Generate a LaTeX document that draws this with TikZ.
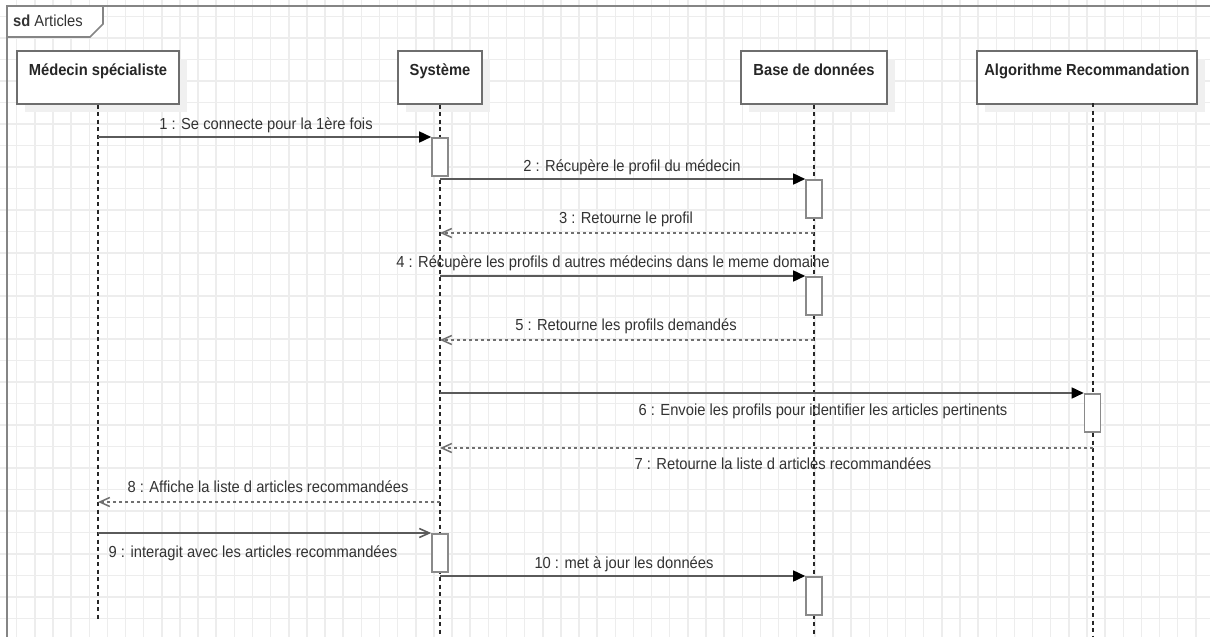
\documentclass[tikz,border=0pt]{standalone}
\usepackage{fontspec}
\setmainfont{Liberation Sans}[FakeStretch=0.92]
\usetikzlibrary{arrows.meta,shadows}

\definecolor{gridline}{HTML}{EDEDED}
\definecolor{frameline}{HTML}{858585}
\definecolor{boxedge}{HTML}{6E6E6E}
\definecolor{actedge}{HTML}{8A8A8A}
\definecolor{msgline}{HTML}{5A5A5A}
\definecolor{retline}{HTML}{707070}
\definecolor{labeltext}{HTML}{333333}
\definecolor{shadowgray}{HTML}{F0F0F0}

\begin{document}
\begin{tikzpicture}[x=1pt,y=-1pt,
  every node/.style={font=\fontsize{16}{19}\selectfont, text=labeltext},
  lifebox/.style={draw=boxedge, line width=1.6pt, fill=white,
    drop shadow={shadow xshift=8pt, shadow yshift=-8pt, fill=shadowgray, opacity=1},
    minimum width=#1, minimum height=53pt, inner sep=0pt,
    text height=25pt, text depth=28pt, anchor=north,
    font=\fontsize{16}{19}\selectfont\bfseries, text=black!85},
  act/.style={draw=actedge, line width=1.6pt, fill=white,
    minimum width=16pt, minimum height=38pt, inner sep=0pt, anchor=north},
  lifeline/.style={draw=black!85, line width=1.1pt, dash pattern=on 4pt off 3.5pt},
  msg/.style={draw=msgline, line width=1.6pt,
    -{Triangle[length=12pt,width=11pt,color=black,fill=black]}},
  msgopen/.style={draw=msgline, line width=1.6pt,
    -{Straight Barb[length=10pt,width=9pt]}},
  ret/.style={draw=retline, line width=1.5pt, dash pattern=on 3pt off 3pt,
    -{Straight Barb[length=10pt,width=9pt]}},
  lbl/.style={anchor=base, inner sep=0pt},
  frame/.style={draw=frameline, line width=1.6pt}
]
\useasboundingbox (0,0) rectangle (1210,637);
\clip (0,0) rectangle (1210,637);
\fill[white] (0,0) rectangle (1210,637);

% background grid
\foreach \i in {0,...,65}
  \draw[gridline, line width=1.5pt] ({16.7+18.14*\i},0) -- ({16.7+18.14*\i},637);
\foreach \j in {0,...,29}
  \draw[gridline, line width=1.5pt] (0,{16.7+21.5*\j}) -- (1210,{16.7+21.5*\j});

% sequence frame and its name tab
\draw[frame] (7,680) -- (7,6) -- (1260,6);
\draw[frame, fill=white] (7,6) -- (103,6) -- (103,24) -- (90,37) -- (7,37) -- cycle;
\node[anchor=base west, inner sep=0pt] (sdname) at (13,27) {\textbf{sd} Articles};

% participants
\node[lifebox=162pt] (med)  at (98,50)   {Médecin spécialiste};
\node[lifebox=84pt]  (sys)  at (440,50)  {Système};
\node[lifebox=146pt] (bdd)  at (814,50)  {Base de données};
\node[lifebox=220pt] (algo) at (1087,50) {Algorithme Recommandation};

% lifelines
\coordinate (medEnd)  at (98,620);
\coordinate (sysEnd)  at (440,640);
\coordinate (bddEnd)  at (814,640);
\coordinate (algoTop) at (1093,103);
\coordinate (algoEnd) at (1093,640);
\draw[lifeline] (med.south) -- (medEnd);
\draw[lifeline] (sys.south) -- (sysEnd);
\draw[lifeline] (bdd.south) -- (bddEnd);
\draw[lifeline] (algoTop) -- (algoEnd);

% activation bars
\node[act] (a1) at (440,137)  {};
\node[act] (a2) at (814,179)  {};
\node[act] (a3) at (814,276)  {};
\node[act] (a4) at (1092.5,393) {};
\node[act] (a5) at (440,533)  {};
\node[act] (a6) at (814,576)  {};

% message end points on the lifelines
\coordinate (s1) at (98,137);
\coordinate (s2) at (440,179);
\coordinate (r3) at (814,233);  \coordinate (e3) at (440,233);
\coordinate (s4) at (440,276);
\coordinate (r5) at (814,340);  \coordinate (e5) at (440,340);
\coordinate (s6) at (440,393);
\coordinate (r7) at (1093,448); \coordinate (e7) at (440,448);
\coordinate (r8) at (440,502);  \coordinate (e8) at (98,502);
\coordinate (s9) at (98,533);
\coordinate (s10) at (440,576);

% messages
\draw[msg] (s1) -- (a1.north west);
\draw[msg] (s2) -- (a2.north west);
\draw[ret] (r3) -- (e3);
\draw[msg] (s4) -- (a3.north west);
\draw[ret] (r5) -- (e5);
\draw[msg] (s6) -- (a4.north west);
\draw[ret] (r7) -- (e7);
\draw[ret] (r8) -- (e8);
\draw[msgopen] (s9) -- (a5.north west);
\draw[msg] (s10) -- (a6.north west);

% message labels
\node[lbl] (l1)  at (266,129)  {1 : Se connecte pour la 1ère fois};
\node[lbl] (l2)  at (632,171)  {2 : Récupère le profil du médecin};
\node[lbl] (l3)  at (626,223)  {3 : Retourne le profil};
\node[lbl] (l4)  at (613,267)  {4 : Récupère les profils d autres médecins dans le meme domaine};
\node[lbl] (l5)  at (626,330)  {5 : Retourne les profils demandés};
\node[lbl] (l6)  at (823,415)  {6 : Envoie les profils pour identifier les articles pertinents};
\node[lbl] (l7)  at (783,469)  {7 : Retourne la liste d articles recommandées};
\node[lbl] (l8)  at (268,492)  {8 : Affiche la liste d articles recommandées};
\node[lbl] (l9)  at (253,557)  {9 : interagit avec les articles recommandées};
\node[lbl] (l10) at (624,568)  {10 : met à jour les données};
\end{tikzpicture}
\end{document}
